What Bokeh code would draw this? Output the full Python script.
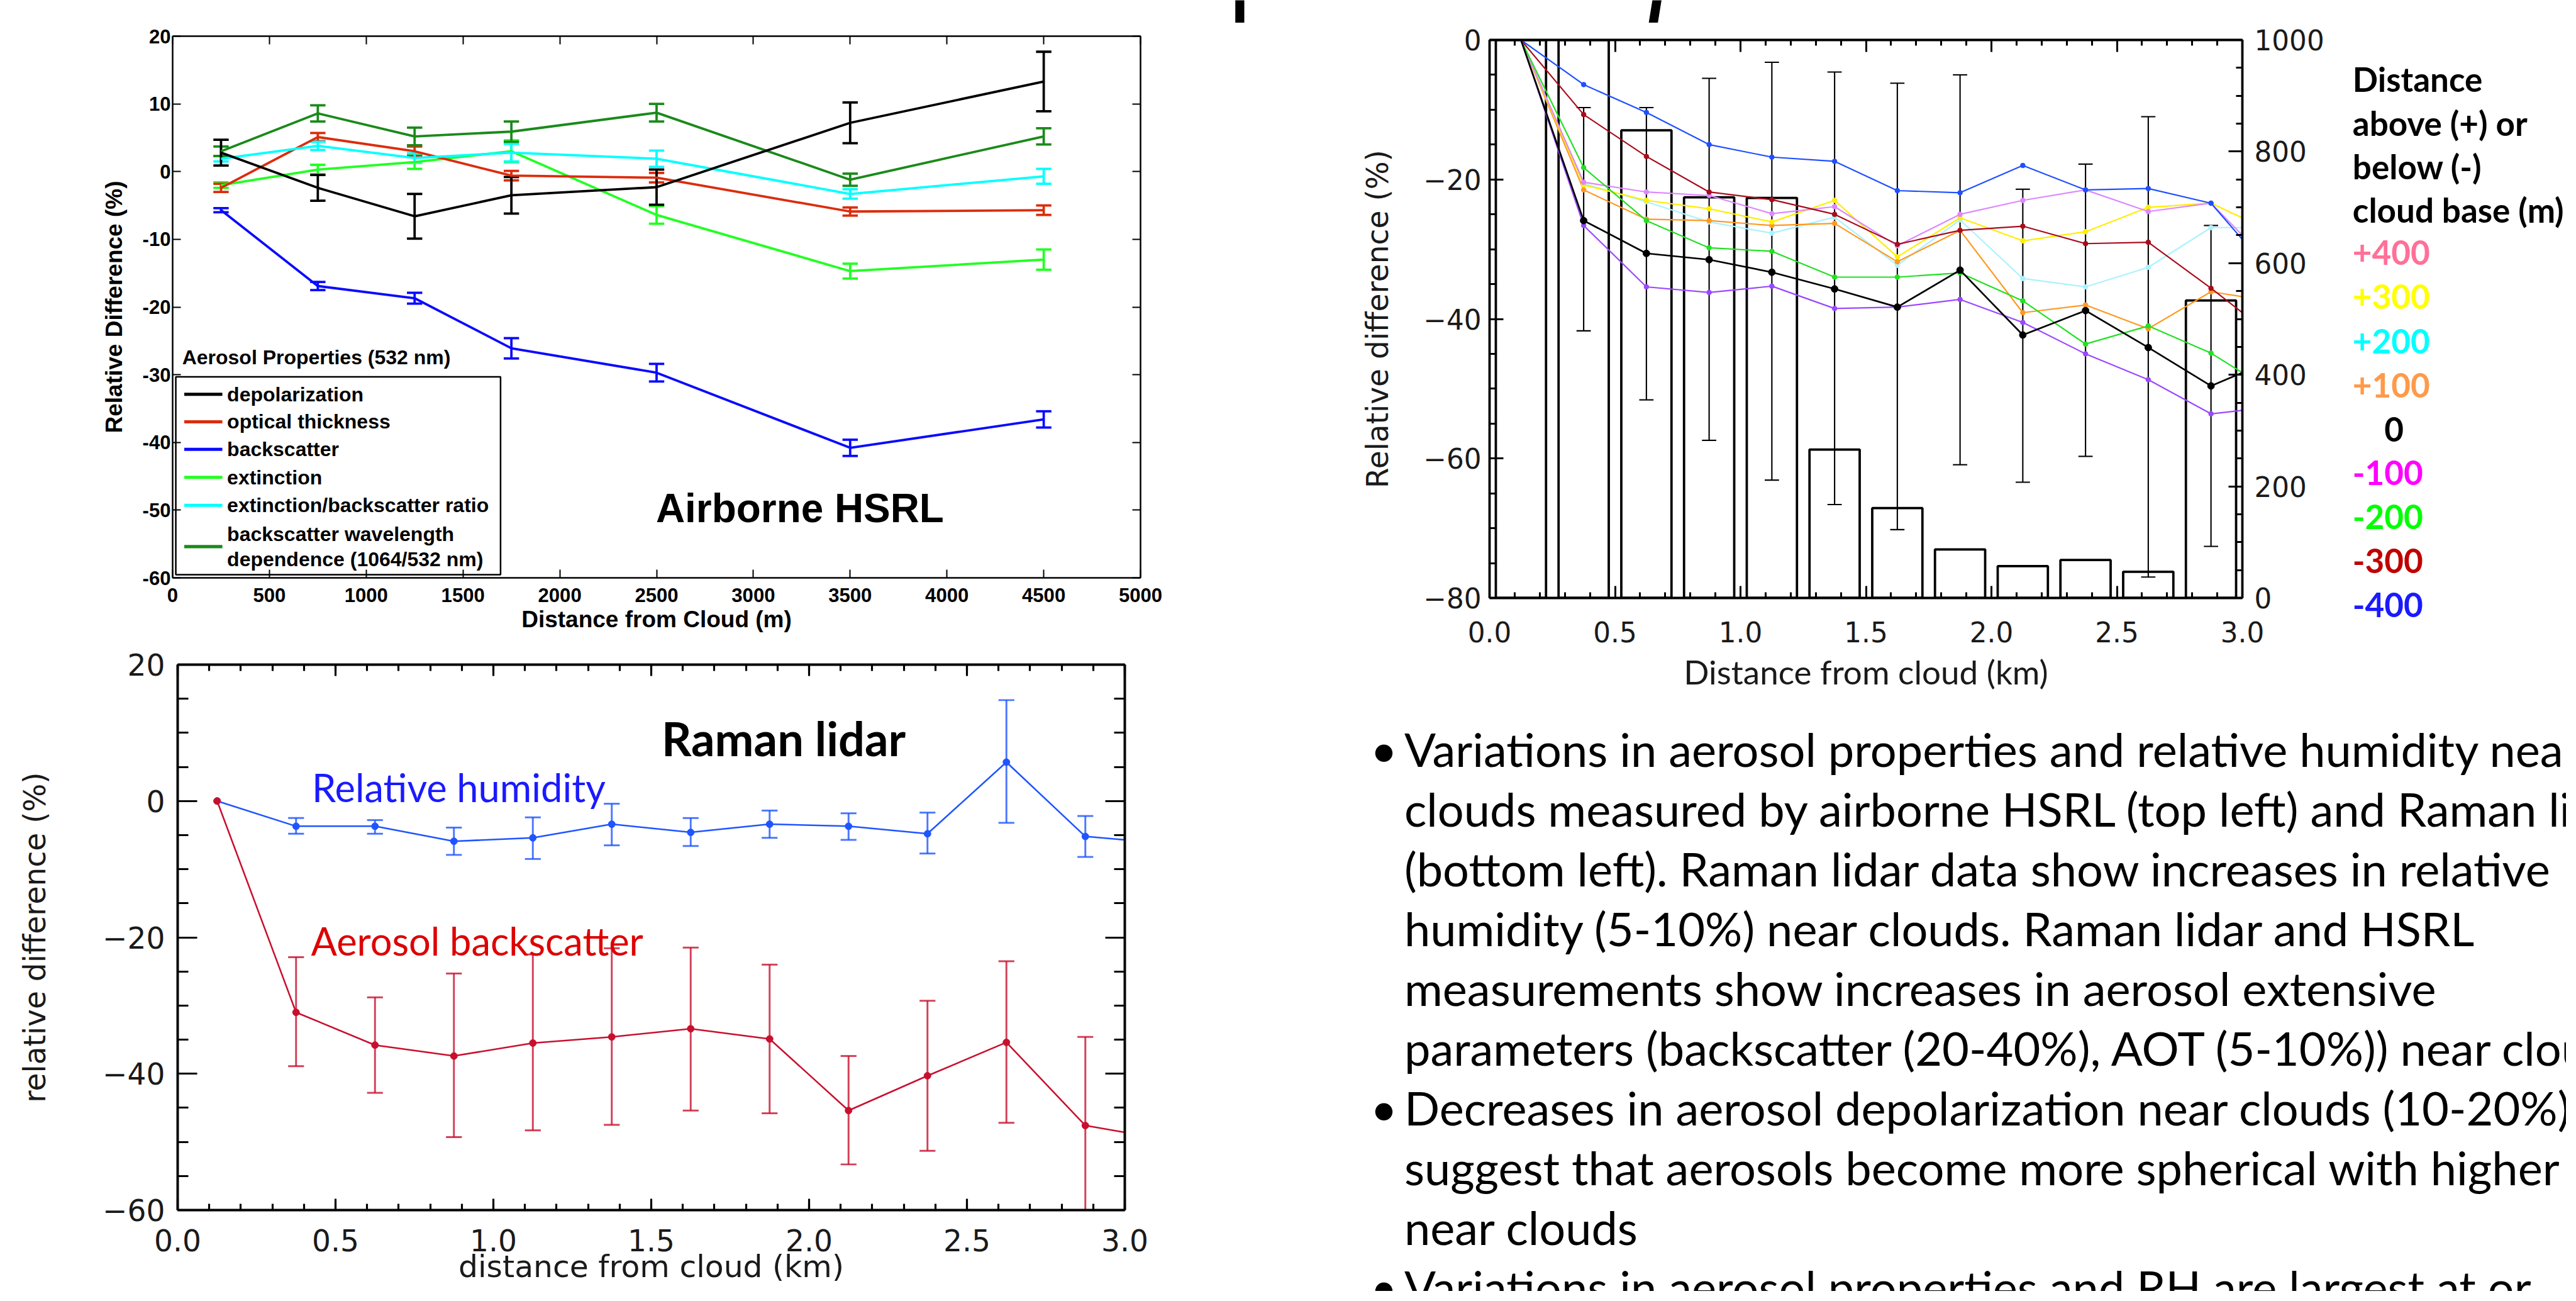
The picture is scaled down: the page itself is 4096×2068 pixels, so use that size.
from bokeh.plotting import figure
from bokeh.models import (Range1d, LinearAxis, SingleIntervalTicker, Whisker, TeeHead,
                          ColumnDataSource, CustomJSTickFormatter, PrintfTickFormatter)
from bokeh.layouts import row, column
from bokeh.embed import file_html
from bokeh.resources import INLINE
from bokeh.core.properties import value

# ======================= DATA =======================
# --- Airborne HSRL (top left) ---
TL_X = [250, 750, 1250, 1750, 2500, 3500, 4500]
TL_NAMES = ["depolarization", "optical thickness", "backscatter", "extinction",
            "extinction/backscatter ratio", "backscatter wavelength\ndependence (1064/532 nm)"]
TL_COLORS = ["#000000", "#dc2c0c", "#0a0aff", "#22ff22", "#00ffff", "#1a8a1a"]
TL_DEPOL = [2.8, -2.4, -6.6, -3.5, -2.3, 7.2, 13.3]
TL_DEPOL_ERR = [1.9, 1.9, 3.3, 2.7, 2.6, 3.0, 4.4]
TL_OPT = [-2.4, 5.1, 3.0, -0.6, -0.9, -5.9, -5.7]
TL_OPT_ERR = [0.6, 0.6, 0.7, 0.7, 0.7, 0.6, 0.7]
TL_BSC = [-5.7, -16.9, -18.7, -26.1, -29.7, -40.8, -36.6]
TL_BSC_ERR = [0.3, 0.6, 0.8, 1.5, 1.3, 1.2, 1.2]
TL_EXT = [-2.0, 0.3, 1.4, 3.0, -6.4, -14.7, -13.0]
TL_EXT_ERR = [0.4, 0.7, 1.0, 1.6, 1.3, 1.1, 1.5]
TL_RATIO = [1.9, 3.8, 2.0, 2.8, 1.9, -3.3, -0.7]
TL_RATIO_ERR = [0.4, 0.6, 0.7, 1.3, 1.2, 0.7, 1.1]
TL_BWD = [3.0, 8.6, 5.2, 5.9, 8.7, -1.2, 5.2]
TL_BWD_ERR = [0.7, 1.2, 1.3, 1.5, 1.3, 0.9, 1.2]
TL_LEGEND_TITLE = "Aerosol Properties (532 nm)"
TL_TAG = "Airborne HSRL"

# --- Raman lidar (bottom left) ---
RL_X = [0.125, 0.375, 0.625, 0.875, 1.125, 1.375, 1.625, 1.875, 2.125, 2.375, 2.625, 2.875, 3.125]
RL_RH = [0.0, -3.7, -3.7, -5.9, -5.4, -3.4, -4.6, -3.4, -3.7, -4.8, 5.7, -5.2, -6.2]
RL_RH_HI = [-2.5, -2.8, -3.9, -2.4, -0.4, -2.5, -1.4, -1.8, -1.7, 14.8, -2.2]
RL_RH_LO = [-4.8, -4.8, -7.9, -8.5, -6.5, -6.6, -5.4, -5.7, -7.7, -3.2, -8.2]
RL_BSC = [0.0, -31.0, -35.8, -37.4, -35.5, -34.6, -33.4, -34.9, -45.4, -40.3, -35.4, -47.6, -49.6]
RL_BSC_HI = [-22.9, -28.8, -25.3, -22.5, -21.6, -21.5, -24.0, -37.4, -29.3, -23.5, -34.6]
RL_BSC_LO = [-38.9, -42.8, -49.3, -48.3, -47.5, -45.4, -45.8, -53.3, -51.3, -47.2, -60.0]
RL_TAG = "Raman lidar"
RL_RH_NAME = "Relative humidity"
RL_BSC_NAME = "Aerosol backscatter"

# --- Distance from cloud base (top right) ---
TR_X = [0.125, 0.375, 0.625, 0.875, 1.125, 1.375, 1.625, 1.875, 2.125, 2.375, 2.625, 2.875, 3.125]
TR_LEVELS = ["+400", "+300", "+200", "+100", "0", "-100", "-200", "-300", "-400"]
TR_SERIES = {
    "+400": [0, -20.4, -21.8, -22.3, -24.9, -23.9, -29.5, -25.0, -23.0, -21.5, -24.6, -23.4, -32.6],
    "+300": [0, -20.8, -23.0, -24.2, -26.1, -23.0, -31.1, -25.5, -28.8, -27.5, -24.0, -23.4, -27.6],
    "+200": [0, -20.6, -23.2, -26.1, -27.7, -25.4, -32.3, -25.8, -34.2, -35.4, -32.6, -26.9, -26.9],
    "+100": [0, -21.5, -25.7, -25.9, -26.6, -26.3, -31.8, -27.3, -39.1, -38.0, -41.4, -36.1, -37.5],
    "0":    [0, -25.9, -30.6, -31.5, -33.3, -35.7, -38.3, -33.0, -42.3, -38.8, -44.1, -49.6, -45.8],
    "-100": [0, -26.6, -35.4, -36.2, -35.3, -38.5, -38.3, -37.2, -40.5, -45.0, -48.7, -53.6, -52.6],
    "-200": [0, -18.3, -25.9, -29.8, -30.3, -34.0, -34.0, -33.4, -37.4, -43.6, -41.0, -44.9, -50.5],
    "-300": [0, -10.7, -16.7, -21.8, -22.9, -25.0, -29.3, -27.3, -26.7, -29.2, -29.0, -35.6, -42.6],
    "-400": [0, -6.4, -10.4, -15.0, -16.8, -17.4, -21.6, -21.9, -18.0, -21.5, -21.3, -23.4, -33.8],
}
TR_LINE_COLORS = ["#dd88ff", "#ffee00", "#aaf2ff", "#ff9922", "#000000",
                  "#9a48ff", "#22e022", "#a80c1c", "#1f50ff"]
TR_LEGEND_COLORS = ["#ff7099", "#ffff00", "#00ffff", "#ff9a4a", "#000000",
                    "#ff00ff", "#00ff00", "#c00000", "#1a1aff"]
TR_ERR_X = [0.375, 0.625, 0.875, 1.125, 1.375, 1.625, 1.875, 2.125, 2.375, 2.625, 2.875]
TR_ERR_HI = [-9.7, -9.7, -5.5, -3.2, -4.6, -6.2, -5.0, -21.4, -17.8, -11.0, -26.6]
TR_ERR_LO = [-41.7, -51.6, -57.4, -63.1, -66.6, -70.2, -60.9, -63.4, -59.7, -77.0, -72.6]
TR_BAR_X = [0.125, 0.375, 0.625, 0.875, 1.125, 1.375, 1.625, 1.875, 2.125, 2.375, 2.625, 2.875]
TR_COUNTS = [1350, 1150, 838, 718, 717, 266, 161, 87, 57, 68, 47, 533]
TR_LEGEND_HEAD = ["Distance", "above (+) or", "below (-)", "cloud base (m)"]

# --- bullet text ---
BULLETS = [
    ("\u2022", "Variations in aerosol properties and relative humidity near"),
    ("", "clouds measured by airborne HSRL (top left) and Raman lidar"),
    ("", "(bottom left). Raman lidar data show increases in relative"),
    ("", "humidity (5-10%) near clouds. Raman lidar and HSRL"),
    ("", "measurements show increases in aerosol extensive"),
    ("", "parameters (backscatter (20-40%), AOT (5-10%)) near clouds"),
    ("\u2022", "Decreases in aerosol depolarization near clouds (10-20%)"),
    ("", "suggest that aerosols become more spherical with higher RH"),
    ("", "near clouds"),
    ("\u2022", "Variations in aerosol properties and RH are largest at or"),
]

# ======================= GEOMETRY =======================
S = 0.841
OFF = 8.0
def C(f):  # reference pixel -> canvas pixel
    return f * S - OFF
def sz(f):
    return f * S
def fs(f):
    return f"{f * S:.1f}px"

TOTAL_W, TOTAL_H = 4080, 2052
LEFT_W = 1926
TL_H = 1014
BL_H = TOTAL_H - TL_H
RIGHT_W = TOTAL_W - LEFT_W
STRIP_H = 36
TR_H = 1092
TXT_H = TOTAL_H - STRIP_H - TR_H
TR_W = 1792
LEG_W = RIGHT_W - TR_W


def no_align(p):
    if "frame_align" in p.properties():
        p.frame_align = False
    return p


def chart(width, height, ox, oy, frame, xr, yr):
    l, t, r, b = frame
    p = figure(width=width, height=height, x_range=Range1d(*xr), y_range=Range1d(*yr),
               x_axis_type=None, y_axis_type=None, toolbar_location=None, title=None,
               output_backend="svg",
               min_border_left=int(round(C(l) - ox)),
               min_border_right=int(width - round(C(r) - ox)),
               min_border_top=int(round(C(t) - oy)),
               min_border_bottom=int(height - round(C(b) - oy)),
               background_fill_color="white", border_fill_color="white",
               outline_line_color=None)
    return no_align(p)


def blank(width, height):
    p = figure(width=width, height=height, x_range=Range1d(0, width), y_range=Range1d(height, 0),
               x_axis_type=None, y_axis_type=None, toolbar_location=None, title=None,
               output_backend="svg", min_border=0,
               background_fill_color="white", border_fill_color="white",
               outline_line_color=None)
    return no_align(p)


def add_axis(p, side, ticker, major_in, minor_in, lw, labels=None, font="DejaVu Sans",
             size=40, style="normal", color="black", standoff=5, label=None,
             label_font=None, label_size=None, label_style="normal", label_standoff=5,
             y_range_name=None):
    kw = {}
    if y_range_name:
        kw["y_range_name"] = y_range_name
    ax = LinearAxis(ticker=ticker, **kw)
    ax.axis_line_width = lw
    ax.axis_line_color = "black"
    ax.major_tick_in = int(round(major_in))
    ax.major_tick_out = 0
    ax.major_tick_line_width = lw * 0.8
    ax.minor_tick_in = int(round(minor_in))
    ax.minor_tick_out = 0
    ax.minor_tick_line_width = lw * 0.8
    if minor_in == 0:
        ax.minor_tick_line_color = None
    if labels is None:
        ax.formatter = CustomJSTickFormatter(code="return '';")
        ax.major_label_standoff = 0
    else:
        ax.formatter = labels
        ax.major_label_text_font = font
        ax.major_label_text_font_size = f"{size:.1f}px"
        ax.major_label_text_font_style = style
        ax.major_label_text_color = color
        ax.major_label_standoff = int(round(standoff))
    if label:
        ax.axis_label = label
        ax.axis_label_text_font = label_font or font
        ax.axis_label_text_font_size = f"{label_size:.1f}px"
        ax.axis_label_text_font_style = label_style
        ax.axis_label_text_color = color
        ax.axis_label_standoff = int(round(label_standoff))
    p.add_layout(ax, side)
    return ax


def to_dx(frame, xr, f):
    l, t, r, b = frame
    return xr[0] + (f - l) / (r - l) * (xr[1] - xr[0])


def to_dy(frame, yr, f):
    l, t, r, b = frame
    return yr[1] - (f - t) / (b - t) * (yr[1] - yr[0])


MINUS_FMT = "return tick < 0 ? '\u2212' + Math.abs(tick) : String(tick);"

# ======================= TOP LEFT: Airborne HSRL =======================
TL_FRAME = (335, 77, 2165, 1101)
TL_XR = (0, 5000)
TL_YR = (-60, 20)
tl = chart(LEFT_W, TL_H, 0, 0, TL_FRAME, TL_XR, TL_YR)
mat = dict(font="Liberation Sans", style="bold", size=sz(37), color="black")
add_axis(tl, "left", SingleIntervalTicker(interval=10, num_minor_ticks=0), sz(16), 0, sz(3),
         labels=CustomJSTickFormatter(code="return String(tick);"), standoff=sz(4),
         label="Relative Difference (%)", label_size=sz(44), label_style="bold",
         label_standoff=sz(26), **mat)
add_axis(tl, "right", SingleIntervalTicker(interval=10, num_minor_ticks=0), sz(16), 0, sz(3))
add_axis(tl, "below", SingleIntervalTicker(interval=500, num_minor_ticks=0), sz(16), 0, sz(3),
         labels=CustomJSTickFormatter(code="return String(tick);"), standoff=sz(19),
         label="Distance from Cloud (m)", label_size=sz(44), label_style="bold",
         label_standoff=4, **mat)
add_axis(tl, "above", SingleIntervalTicker(interval=500, num_minor_ticks=0), sz(16), 0, sz(3))

tl_vals = [TL_DEPOL, TL_OPT, TL_BSC, TL_EXT, TL_RATIO, TL_BWD]
tl_errs = [TL_DEPOL_ERR, TL_OPT_ERR, TL_BSC_ERR, TL_EXT_ERR, TL_RATIO_ERR, TL_BWD_ERR]
order = [2, 3, 1, 4, 5, 0]
for i in order:
    c = TL_COLORS[i]
    tl.line(TL_X, tl_vals[i], line_color=c, line_width=sz(4.5))
    src = ColumnDataSource(dict(x=TL_X, hi=[v + e for v, e in zip(tl_vals[i], tl_errs[i])],
                                lo=[v - e for v, e in zip(tl_vals[i], tl_errs[i])]))
    tl.add_layout(Whisker(base="x", upper="hi", lower="lo", source=src, line_color=c,
                          line_width=sz(4.5),
                          upper_head=TeeHead(size=sz(29), line_color=c, line_width=sz(4.5)),
                          lower_head=TeeHead(size=sz(29), line_color=c, line_width=sz(4.5))))

# legend (drawn manually to reproduce MATLAB layout)
fx = lambda f: to_dx(TL_FRAME, TL_XR, f)
fy = lambda f: to_dy(TL_FRAME, TL_YR, f)
tl.quad(left=[fx(341)], right=[fx(955)], top=[fy(721)], bottom=[fy(1095)],
        fill_color="white", line_color="black", line_width=sz(3))
row_y = [754, 806, 858, 911, 964, 1042]
for i, name in enumerate(TL_NAMES):
    tl.segment(x0=[fx(357)], x1=[fx(429)], y0=[fy(row_y[i])], y1=[fy(row_y[i])],
               line_color=TL_COLORS[i], line_width=sz(6))
    parts = name.split("\n")
    if len(parts) == 1:
        ys = [row_y[i]]
    else:
        ys = [row_y[i] - 24, row_y[i] + 24]
    tl.text(x=[fx(438)] * len(parts), y=[fy(v) for v in ys], text=parts,
            text_font=value("Liberation Sans"), text_font_style="bold",
            text_font_size=fs(38), text_baseline="middle", text_align="left", text_color="black")
tl.text(x=[fx(353)], y=[fy(684)], text=[TL_LEGEND_TITLE], text_font=value("Liberation Sans"),
        text_font_style="bold", text_font_size=fs(38), text_baseline="middle", text_align="left")
tl.text(x=[fx(1521)], y=[fy(969)], text=[TL_TAG], text_font=value("Liberation Sans"),
        text_font_style="bold", text_font_size=fs(76), text_baseline="middle", text_align="center")

# ======================= BOTTOM LEFT: Raman lidar =======================
BL_FRAME = (345, 1265, 2136, 2296)
BL_XR = (0, 3)
BL_YR = (-60, 20)
bl = chart(LEFT_W, BL_H, 0, TL_H, BL_FRAME, BL_XR, BL_YR)
idl = dict(font="DejaVu Sans", style="normal", color="#1a1a1a")
add_axis(bl, "left", SingleIntervalTicker(interval=20, num_minor_ticks=4), sz(37), sz(20), sz(4.7),
         labels=CustomJSTickFormatter(code=MINUS_FMT), size=sz(56), standoff=sz(24),
         label="relative difference (%)", label_size=sz(56), label_standoff=sz(92), **idl)
add_axis(bl, "right", SingleIntervalTicker(interval=20, num_minor_ticks=4), sz(37), sz(20), sz(4.7))
add_axis(bl, "below", SingleIntervalTicker(interval=0.5, num_minor_ticks=5), sz(21), sz(12), sz(4.7),
         labels=PrintfTickFormatter(format="%.1f"), size=sz(56), standoff=30,
         label="distance from cloud (km)", label_size=sz(58), label_standoff=-7, **idl)
add_axis(bl, "above", SingleIntervalTicker(interval=0.5, num_minor_ticks=5), sz(21), sz(12), sz(4.7))

RH_C = "#1f55ff"
BS_C = "#c8102e"
bl.line(RL_X, RL_RH, line_color=RH_C, line_width=sz(3))
bl.scatter(RL_X[:-1], RL_RH[:-1], size=sz(13), color=RH_C)
bl.line(RL_X, RL_BSC, line_color=BS_C, line_width=sz(3))
bl.scatter(RL_X[:-1], RL_BSC[:-1], size=sz(13), color=BS_C)
for hi, lo, c in [(RL_RH_HI, RL_RH_LO, RH_C), (RL_BSC_HI, RL_BSC_LO, BS_C)]:
    src = ColumnDataSource(dict(x=RL_X[1:12], hi=hi, lo=lo))
    bl.add_layout(Whisker(base="x", upper="hi", lower="lo", source=src, line_color=c,
                          line_alpha=0.8, line_width=sz(3.5),
                          upper_head=TeeHead(size=sz(30), line_color=c, line_alpha=0.8, line_width=sz(3.5)),
                          lower_head=TeeHead(size=sz(30), line_color=c, line_alpha=0.8, line_width=sz(3.5))))
gx = lambda f: to_dx(BL_FRAME, BL_XR, f)
gy = lambda f: to_dy(BL_FRAME, BL_YR, f)
bl.text(x=[gx(1491)], y=[gy(1404)], text=[RL_TAG], text_font=value("Lato"), text_font_style="bold",
        text_font_size=fs(88), text_baseline="middle", text_align="center", text_color="black")
bl.text(x=[gx(599)], y=[gy(1496)], text=[RL_RH_NAME], text_font=value("Lato"),
        text_font_size=fs(73), text_baseline="alphabetic", text_align="left", text_color="#1a1aff")
bl.text(x=[gx(597)], y=[gy(1786)], text=[RL_BSC_NAME], text_font=value("Lato"),
        text_font_size=fs(73), text_baseline="alphabetic", text_align="left", text_color="#dd0000")

# ======================= TOP RIGHT =======================
TR_OX, TR_OY = LEFT_W, STRIP_H
TR_FRAME = (2825, 84, 4248, 1139)
TR_XR = (0, 3)
TR_YR = (-80, 0)
tr = chart(TR_W, TR_H, TR_OX, TR_OY, TR_FRAME, TR_XR, TR_YR)
tr.extra_y_ranges = {"counts": Range1d(0, 1000)}
add_axis(tr, "left", SingleIntervalTicker(interval=20, num_minor_ticks=4), sz(26), sz(12), sz(4.5),
         labels=CustomJSTickFormatter(code=MINUS_FMT), size=sz(52), standoff=sz(16),
         label="Relative difference (%)", label_size=sz(56), label_standoff=sz(50), **idl)
add_axis(tr, "right", SingleIntervalTicker(interval=200, num_minor_ticks=4), sz(26), sz(12), sz(4.5),
         labels=CustomJSTickFormatter(code="return String(tick);"), size=sz(52), standoff=sz(22),
         y_range_name="counts", **idl)
add_axis(tr, "below", SingleIntervalTicker(interval=0.5, num_minor_ticks=5), sz(22), sz(11), sz(4.5),
         labels=PrintfTickFormatter(format="%.1f"), size=sz(52), standoff=37,
         label="Distance from cloud (km)", label_font="Lato", label_size=sz(63), label_standoff=12,
         **idl)
add_axis(tr, "above", SingleIntervalTicker(interval=0.5, num_minor_ticks=5), sz(22), sz(11), sz(4.5))

tr.vbar(x=TR_BAR_X, width=0.2, top=TR_COUNTS, bottom=0, y_range_name="counts",
        fill_color=None, line_color="black", line_width=sz(4.5))
draw_order = ["+200", "+100", "+300", "+400", "-200", "-100", "-300", "-400", "0"]
for lev in draw_order:
    i = TR_LEVELS.index(lev)
    c = TR_LINE_COLORS[i]
    w = sz(3.2) if lev == "0" else sz(2.6)
    tr.line(TR_X, TR_SERIES[lev], line_color=c, line_width=w)
    tr.scatter(TR_X[1:-1], TR_SERIES[lev][1:-1], size=sz(13) if lev == "0" else sz(9), color=c)
src = ColumnDataSource(dict(x=TR_ERR_X, hi=TR_ERR_HI, lo=TR_ERR_LO))
tr.add_layout(Whisker(base="x", upper="hi", lower="lo", source=src, line_color="black",
                      line_width=sz(2.5),
                      upper_head=TeeHead(size=sz(27), line_color="black", line_width=sz(2.5)),
                      lower_head=TeeHead(size=sz(27), line_color="black", line_width=sz(2.5))))

# legend panel of top-right chart
LEG_OX = LEFT_W + TR_W
leg = blank(LEG_W, TR_H)
head_base = [158, 241, 323, 405]
leg.text(x=[C(4457) - LEG_OX] * 4, y=[C(v) - TR_OY for v in head_base], text=TR_LEGEND_HEAD,
         text_font=value("Lato"), text_font_style="bold", text_font_size=fs(63),
         text_baseline="alphabetic", text_align="left", text_color="black")
lev_base = [486, 570, 654, 737, 820, 902, 986, 1069, 1152]
leg.text(x=[C(4517 if t == "0" else 4457) - LEG_OX for t in TR_LEVELS],
         y=[C(v) - TR_OY for v in lev_base], text=TR_LEVELS, text_color=TR_LEGEND_COLORS,
         text_font=value("Lato"), text_font_style="bold", text_font_size=fs(63),
         text_baseline="alphabetic", text_align="left")

# ======================= TITLE STRIP (descender shards of the cut-off slide title) ==========
strip = blank(RIGHT_W, STRIP_H)
strip.segment(x0=[C(2353) - LEFT_W, C(3144) - LEFT_W], y0=[C(-5), C(-5)],
              x1=[C(2353) - LEFT_W, C(3134) - LEFT_W], y1=[C(57), C(57)],
              line_color="black", line_width=sz(17))

# ======================= BULLET TEXT =======================
TXT_OY = STRIP_H + TR_H
txt = blank(RIGHT_W, TXT_H)
bases = [C(1424 + 113 * k) - TXT_OY for k in range(len(BULLETS))]
b_idx = [k for k, (b, _) in enumerate(BULLETS) if b]
txt.text(x=[C(2600) - LEFT_W] * len(b_idx), y=[bases[k] for k in b_idx],
         text=[BULLETS[k][0] for k in b_idx], text_font=value("Lato"), text_font_size=fs(88),
         text_baseline="alphabetic", text_align="left", text_color="black")
txt.text(x=[C(2664) - LEFT_W] * len(BULLETS), y=bases, text=[t for _, t in BULLETS],
         text_font=value("Lato"), text_font_size=fs(88), text_baseline="alphabetic",
         text_align="left", text_color="black")

# ======================= LAYOUT =======================
left = column(tl, bl)
right = column(strip, row(tr, leg), txt)
page = row(left, right)

open("out.html", "w").write(file_html(page, INLINE, title="Aerosol properties near clouds"))
